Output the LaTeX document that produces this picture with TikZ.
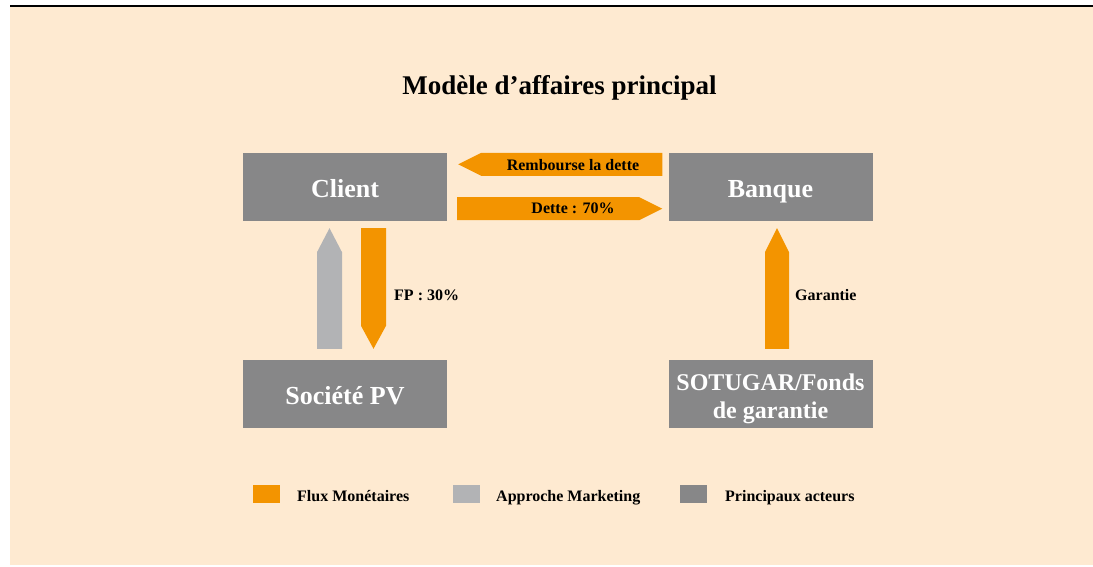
\documentclass[tikz,border=0pt]{standalone}
\usepackage{fontspec}
\setmainfont{Liberation Serif}
\usepackage{tikz}
\usetikzlibrary{positioning,calc}

\definecolor{fondpage}{RGB}{254,234,209}
\definecolor{orangeflux}{RGB}{243,148,0}
\definecolor{grisacteur}{RGB}{135,135,136}
\definecolor{grismarketing}{RGB}{178,179,181}

\begin{document}
\begin{tikzpicture}[x=1pt,y=-1pt,
acteur/.style={rectangle, fill=grisacteur, text=white, inner sep=0pt, minimum width=204pt, minimum height=68pt, align=center, text height=24pt, text depth=4pt, font=\bfseries\fontsize{26}{31}\selectfont},
flux/.style={fill=orangeflux},
marketing/.style={fill=grismarketing},
etiquette/.style={inner sep=0pt, font=\bfseries\fontsize{16}{18}\selectfont},
legende/.style={rectangle, inner sep=0pt, minimum width=27pt, minimum height=18pt},
legtexte/.style={inner sep=0pt, anchor=base west, font=\bfseries\fontsize{16}{18}\selectfont},
]

%Background
\fill[white] (0,0) rectangle (1093,567);
\useasboundingbox (0,0) rectangle (1093,567);
\fill[fondpage] (10,7) rectangle (1093,565);
\fill[black] (10,4.8) rectangle (1093,7.2);

%Nodes
\node[anchor=base, inner sep=0pt, font=\bfseries\fontsize{27}{30}\selectfont] (titre) at (559.5,94.3) {Modèle d'affaires principal};

\node[acteur] (client) at (345,187) {Client};
\node[acteur] (banque) at (770.5,187) {Banque};
\node[acteur] (societe) at (345,394) {Société PV};
\node[acteur, text height=48.5pt, text depth=0pt, font=\bfseries\fontsize{24}{27.5}\selectfont] (sotugar) at (770.5,394) {SOTUGAR/Fonds\\de garantie};

%Arrows
\fill[flux] ($(banque.north west)+(-6,0)$) -- ($(client.north east)+(34,0)$) -- ($(client.north east)+(11,11.5)$) -- ($(client.north east)+(34,23)$) -- ($(banque.north west)+(-6,23)$) -- cycle;
\fill[flux] ($(client.south east)+(10,-24)$) -- ($(banque.south west)+(-29,-24)$) -- ($(banque.south west)+(-6,-12.5)$) -- ($(banque.south west)+(-29,-1)$) -- ($(client.south east)+(10,-1)$) -- cycle;
\fill[marketing] ($(societe.north)+(-28,-11)$) -- ($(client.south)+(-28,31)$) -- ($(client.south)+(-15.5,7)$) -- ($(client.south)+(-3,31)$) -- ($(societe.north)+(-3,-11)$) -- cycle;
\fill[flux] ($(client.south)+(16,7)$) -- ($(societe.north)+(16,-34)$) -- ($(societe.north)+(28.5,-11)$) -- ($(societe.north)+(41,-34)$) -- ($(client.south)+(41,7)$) -- cycle;
\fill[flux] ($(sotugar.north)+(-5.5,-11)$) -- ($(banque.south)+(-5.5,31)$) -- ($(banque.south)+(6.5,7)$) -- ($(banque.south)+(18.5,31)$) -- ($(sotugar.north)+(18.5,-11)$) -- cycle;

%Labels
\node[etiquette, anchor=base] (rembourse) at (573,170.5) {Rembourse la dette};
\node[etiquette, anchor=base] (dette) at (573,214) {Dette : 70\%};
\node[etiquette, anchor=base west] (fp) at (394,300) {FP : 30\%};
\node[etiquette, anchor=base west] (garantie) at (795,300) {Garantie};

%Legend
\node[legende, fill=orangeflux] (leg1) at (266.5,494) {};
\node[legtexte] (legt1) at (297,501) {Flux Monétaires};
\node[legende, fill=grismarketing] (leg2) at (466,494) {};
\node[legtexte] (legt2) at (496,501) {Approche Marketing};
\node[legende, fill=grisacteur] (leg3) at (693.5,494) {};
\node[legtexte] (legt3) at (725,501) {Principaux acteurs};

\end{tikzpicture}
\end{document}
